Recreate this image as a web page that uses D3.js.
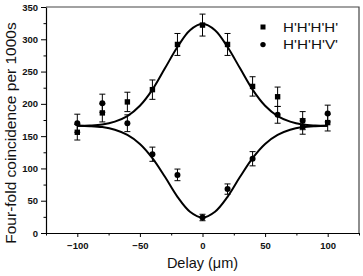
<!DOCTYPE html>
<html>
<head>
<meta charset="utf-8">
<script src="https://cdn.jsdelivr.net/npm/d3@7"></script>
<style>
  body { margin: 0; background: #fff; }
  text { font-family: "Liberation Sans", Arial, sans-serif; }
</style>
</head>
<body>
<div id="chart"></div>
<script>
// Dados
const delays = [-100, -80, -60, -40, -20, 0, 20, 40, 60, 80, 100];
const hhhh = [156, 186, 203, 222, 292, 322, 292, 227, 211, 165, 171];
const hhhhErr = [12, 14, 15, 15, 17, 17, 17, 15, 15, 12, 13];
const hhhv = [170, 201, 170, 122, 90, 24, 68, 115, 183, 174, 185];
const hhhvErr = [14, 14, 13, 11, 9, 5, 8, 11, 13, 14, 13];

// curvas de ajuste
const fitX = [-100, -90, -80, -70, -60, -50, -40, -30, -20, -10, 0, 10, 20, 30, 40, 50, 60, 70, 80, 90, 100];
const fitUpper = [166, 166.5, 168, 172.5, 181, 197, 222, 255, 288, 314, 324, 314, 288, 255, 222, 197, 181, 172.5, 168, 166.5, 166];
const fitLower = [166, 165.5, 164, 160, 152, 138, 116, 87, 56, 33, 24, 33, 56, 87, 116, 138, 152, 160, 164, 165.5, 166];

const xMajor = [-100, -50, 0, 50, 100];
const xMinor = [-125, -75, -25, 25, 75, 125];
const yMajor = [0, 50, 100, 150, 200, 250, 300, 350];
const yMinor = [25, 75, 125, 175, 225, 275, 325];
const legendLabels = ["H'H'H'H'", "H'H'H'V'"];

const margin = { top: 7, right: 4, bottom: 43, left: 46 };
const width = 363 - margin.left - margin.right;
const height = 276 - margin.top - margin.bottom;

const svg = d3.select("#chart")
    .append("svg")
    .attr("width", 363)
    .attr("height", 276)
    .append("g")
    .attr("transform", `translate(${margin.left},${margin.top})`);

const x = d3.scaleLinear().domain([-125, 125]).range([0, width]);
const y = d3.scaleLinear().domain([0, 350]).range([height, 0]);

// moldura superior e direita
svg.append("path")
    .attr("d", `M0,0H${width}V${height}`)
    .attr("fill", "none")
    .attr("stroke", "#444")
    .attr("stroke-width", 1.2);

// eixos
svg.append("g")
    .attr("transform", `translate(0,${height})`)
    .call(d3.axisBottom(x).tickValues(xMajor).tickSize(4).tickSizeOuter(0).tickPadding(5));
svg.append("g")
    .attr("transform", `translate(0,${height})`)
    .call(d3.axisBottom(x).tickValues(xMinor).tickSize(2.5).tickFormat("").tickSizeOuter(0))
    .select(".domain").remove();

svg.append("g")
    .call(d3.axisLeft(y).tickValues(yMajor).tickSize(5).tickSizeOuter(0).tickPadding(3));
svg.append("g")
    .call(d3.axisLeft(y).tickValues(yMinor).tickSize(2.5).tickFormat("").tickSizeOuter(0))
    .select(".domain").remove();

svg.selectAll(".domain").attr("stroke", "#000").attr("stroke-width", 1.2);
svg.selectAll(".tick line").attr("stroke", "#000");
svg.selectAll(".tick text")
    .style("font-family", "'Liberation Sans', Arial, sans-serif")
    .style("font-size", "9.5px")
    .style("font-weight", "bold")
    .attr("fill", "#111");

// curvas de ajuste
const line = d3.line()
    .x((d, i) => x(fitX[i]))
    .y(d => y(d))
    .curve(d3.curveCatmullRom);

[fitUpper, fitLower].forEach(s => {
    svg.append("path")
        .datum(s)
        .attr("d", line)
        .attr("fill", "none")
        .attr("stroke", "#000")
        .attr("stroke-width", 2);
});

// barras de erro
function errorBars(vals, errs) {
    const g = svg.append("g").attr("stroke", "#000").attr("stroke-width", 1);
    delays.forEach((d, i) => {
        const cx = x(d);
        const y0 = y(vals[i] - errs[i]);
        const y1 = y(vals[i] + errs[i]);
        g.append("line").attr("x1", cx).attr("x2", cx).attr("y1", y0).attr("y2", y1);
        g.append("line").attr("x1", cx - 3).attr("x2", cx + 3).attr("y1", y0).attr("y2", y0);
        g.append("line").attr("x1", cx - 3).attr("x2", cx + 3).attr("y1", y1).attr("y2", y1);
    });
}
errorBars(hhhh, hhhhErr);
errorBars(hhhv, hhhvErr);

// pontos
svg.selectAll(".sq")
    .data(hhhh)
    .enter().append("rect")
    .attr("class", "sq")
    .attr("x", (d, i) => x(delays[i]) - 2.7)
    .attr("y", d => y(d) - 2.7)
    .attr("width", 5.4)
    .attr("height", 5.4)
    .attr("fill", "#000");

svg.selectAll(".dot")
    .data(hhhv)
    .enter().append("circle")
    .attr("class", "dot")
    .attr("cx", (d, i) => x(delays[i]))
    .attr("cy", d => y(d))
    .attr("r", 3)
    .attr("fill", "#000");

// legenda
const legend = svg.append("g").attr("transform", "translate(217,20)");
legend.append("rect")
    .attr("x", -2.5).attr("y", -2.5).attr("width", 5).attr("height", 5).attr("fill", "#000");
legend.append("circle")
    .attr("cx", 0).attr("cy", 17.6).attr("r", 2.7).attr("fill", "#000");
legendLabels.forEach((t, i) => {
    legend.append("text")
        .attr("x", 20)
        .attr("y", 4.5 + i * 17.6)
        .attr("textLength", 55)
        .attr("lengthAdjust", "spacingAndGlyphs")
        .style("font-size", "12px")
        .attr("fill", "#111")
        .text(t);
});

// títulos dos eixos
svg.append("text")
    .attr("text-anchor", "middle")
    .attr("x", x(0))
    .attr("y", height + 35)
    .style("font-size", "14.5px")
    .attr("fill", "#111")
    .text("Delay (\u03bcm)");

svg.append("text")
    .attr("text-anchor", "middle")
    .attr("transform", "rotate(-90)")
    .attr("x", -(133 - margin.top))
    .attr("y", -margin.left + 16)
    .style("font-size", "15.5px")
    .attr("fill", "#111")
    .text("Four-fold coincidence per 1000s");
</script>
</body>
</html>
